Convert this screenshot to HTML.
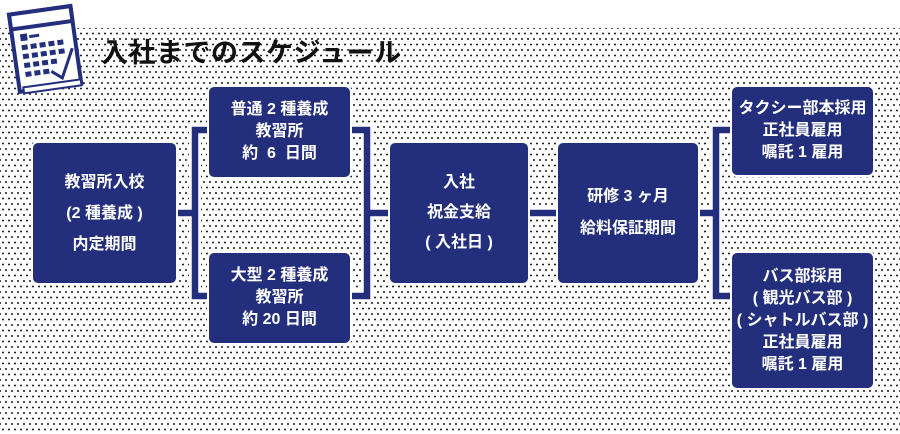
<!DOCTYPE html>
<html><head><meta charset="utf-8"><style>
html,body{margin:0;padding:0}
body{width:900px;height:434px;position:relative;overflow:hidden;background:#fff;font-family:"Liberation Sans","Noto Sans CJK JP",sans-serif}
.dots{position:absolute;left:0;top:28px;width:900px;height:406px;
background-image:radial-gradient(circle,#222 0.8px,transparent 1.1px),radial-gradient(circle,#222 0.8px,transparent 1.1px);
background-size:6px 11px,6px 11px;background-position:0 0,3px 5.5px}
.box{position:absolute;background:#232f7c;border-radius:5px;color:#fff;font-weight:bold;font-size:16px;display:flex;flex-direction:column;justify-content:center;align-items:center;text-align:center;box-shadow:0 0 0 2px #fff}
.title{position:absolute;left:101px;top:31px;font-size:27px;font-weight:bold;color:#111;letter-spacing:0.5px}
svg{position:absolute;left:0;top:0}
</style></head><body>
<div class="dots"></div>
<svg width="900" height="434">
<g fill="none" stroke-linejoin="miter">
<g stroke="#fff" stroke-width="12">
<path d="M176 213 H195 M209 130 H195 V296 H209 M350 130 H367 V296 H350 M367 213 H390 M528 213 H558 M698 213 H716 M732 130 H716 V296 H732"/>
</g>
<g stroke="#232f7c" stroke-width="6.5">
<path d="M176 213 H195 M209 130 H195 V296 H209 M350 130 H367 V296 H350 M367 213 H390 M528 213 H558 M698 213 H716 M732 130 H716 V296 H732"/>
</g>
</g>
<g transform="rotate(-8 45 48)">
<rect x="14" y="10" width="62" height="78" fill="#fff" stroke="#232f7c" stroke-width="4"/>
<rect x="14" y="10" width="62" height="15" fill="#fff" stroke="#232f7c" stroke-width="4"/>
<rect x="18" y="84" width="58" height="6" fill="#fff" stroke="#232f7c" stroke-width="2"/>
<g fill="#232f7c">
<rect x="22" y="31" width="7" height="7"/><rect x="31" y="33" width="10" height="3"/>
<rect x="22" y="42" width="6" height="5"/><rect x="31" y="42" width="6" height="5"/><rect x="40" y="42" width="6" height="5"/><rect x="49" y="42" width="6" height="5"/><rect x="58" y="42" width="6" height="5"/>
<rect x="22" y="51" width="6" height="5"/><rect x="31" y="51" width="6" height="5"/><rect x="40" y="51" width="6" height="5"/><rect x="49" y="51" width="6" height="5"/><rect x="58" y="51" width="6" height="5"/>
<rect x="22" y="60" width="6" height="5"/><rect x="31" y="60" width="6" height="5"/><rect x="40" y="60" width="6" height="5"/><rect x="49" y="60" width="6" height="5"/>
<rect x="22" y="69" width="6" height="5"/><rect x="31" y="69" width="6" height="5"/><rect x="40" y="69" width="6" height="5"/>
</g>
<path d="M48 72 L58 80 L72 52" fill="none" stroke="#232f7c" stroke-width="3"/>
</g>
</svg>
<div class="title">入社までのスケジュール</div>
<div class="box" style="left:33px;top:143px;width:143px;height:140px;line-height:31px">教習所入校<br>(2 種養成 )<br>内定期間</div>
<div class="box" style="left:209px;top:87px;width:141px;height:90px;line-height:22px">普通 2 種養成<br>教習所<br>約 &nbsp;6 &nbsp;日間</div>
<div class="box" style="left:209px;top:253px;width:141px;height:90px;line-height:22px">大型 2 種養成<br>教習所<br>約 20 日間</div>
<div class="box" style="left:390px;top:143px;width:138px;height:140px;line-height:30px">入社<br>祝金支給<br>( 入社日 )</div>
<div class="box" style="left:558px;top:143px;width:140px;height:140px;line-height:32px">研修 3 ヶ月<br>給料保証期間</div>
<div class="box" style="left:732px;top:87px;width:141px;height:88px;line-height:22px">タクシー部本採用<br>正社員雇用<br>嘱託 1 雇用</div>
<div class="box" style="left:732px;top:253px;width:141px;height:135px;line-height:22px">バス部採用<br>( 観光バス部 )<br>( シャトルバス部 )<br>正社員雇用<br>嘱託 1 雇用</div>
</body></html>
